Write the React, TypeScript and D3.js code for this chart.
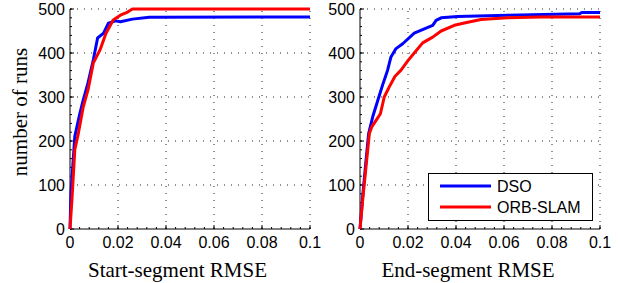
import React from "react";
import * as d3 from "d3";

// values (x = RMSE, y = number of runs)
const startDsoX = [0, 0.0004, 0.002, 0.004, 0.0055, 0.0075, 0.0097, 0.0115, 0.014, 0.016, 0.019, 0.021, 0.026, 0.033, 0.1];
const startDsoY = [0, 82, 210, 260, 293, 332, 384, 434, 445, 468, 473, 471, 477, 481, 482];
const startOrbX = [0, 0.0008, 0.002, 0.0035, 0.0055, 0.0075, 0.0097, 0.0125, 0.015, 0.018, 0.021, 0.024, 0.026, 0.1];
const startOrbY = [0, 66, 180, 218, 277, 316, 377, 407, 445, 475, 486, 493, 500, 500];

const endDsoX = [0, 0.0011, 0.0025, 0.0036, 0.0053, 0.0074, 0.0094, 0.0115, 0.0129, 0.015, 0.0178, 0.0226, 0.0268, 0.0303, 0.0317, 0.0338, 0.0407, 0.0615, 0.0914, 0.0924, 0.1];
const endDsoY = [0, 73, 156, 217, 255, 292, 327, 361, 391, 410, 421, 445, 455, 463, 474, 480, 483, 486, 489, 492, 492];
const endOrbX = [0, 0.0011, 0.0025, 0.0039, 0.0049, 0.0067, 0.0085, 0.0101, 0.0122, 0.0146, 0.0171, 0.0199, 0.0226, 0.0261, 0.0303, 0.0338, 0.0393, 0.0449, 0.0504, 0.0615, 0.0754, 0.1];
const endOrbY = [0, 65, 141, 217, 232, 247, 262, 300, 323, 347, 361, 382, 400, 423, 436, 450, 463, 470, 476, 480, 482, 482];

const xTicks = [0, 0.02, 0.04, 0.06, 0.08, 0.1];
const yTicks = [0, 100, 200, 300, 400, 500];
const seriesNames = ["DSO", "ORB-SLAM"];
const seriesColors = ["#0000ff", "#ff0000"];

const W = 618, H = 283;
const top = 9, bottom = 229;
const sans = "'Liberation Sans', Arial, sans-serif";
const serif = "'Liberation Serif', 'Times New Roman', serif";

const fmtX = (v: number) => (v === 0 ? "0" : v === 0.1 ? "0.1" : v.toFixed(2));

function Panel({ left, label, labelX, dso, orb, showYLabel }: any) {
  const x = d3.scaleLinear().domain([0, 0.1]).range([left, left + 240]);
  const y = d3.scaleLinear().domain([0, 500]).range([bottom, top]);
  const line = d3.line<[number, number]>().x(d => x(d[0])).y(d => y(d[1]));
  const minorX = d3.range(0, 0.1001, 0.004);
  const minorY = d3.range(0, 501, 20);
  return (
    <g>
      {/* grid */}
      {xTicks.filter(t => t > 0).map(t => (
        <line key={"gx" + t} x1={x(t)} x2={x(t)} y1={bottom} y2={top}
          stroke="#222" strokeWidth={1} strokeDasharray="1,6" />
      ))}
      {yTicks.filter(t => t > 0).map(t => (
        <line key={"gy" + t} x1={left} x2={x(0.1)} y1={y(t)} y2={y(t)}
          stroke="#222" strokeWidth={1} strokeDasharray="1,6" />
      ))}
      {/* minor ticks */}
      {minorX.map((t, i) => (
        <line key={"mx" + i} x1={x(t)} x2={x(t)} y1={bottom} y2={bottom - 2} stroke="#000" />
      ))}
      {minorY.map((t, i) => (
        <line key={"my" + i} x1={left} x2={left + 2} y1={y(t)} y2={y(t)} stroke="#000" />
      ))}
      {xTicks.map(t => (
        <line key={"tx" + t} x1={x(t)} x2={x(t)} y1={bottom} y2={bottom - 4} stroke="#000" />
      ))}
      {yTicks.map(t => (
        <line key={"ty" + t} x1={left} x2={left + 4} y1={y(t)} y2={y(t)} stroke="#000" />
      ))}
      {/* axes */}
      <line x1={left} x2={left} y1={top} y2={bottom} stroke="#000" />
      <line x1={left} x2={x(0.1)} y1={bottom} y2={bottom} stroke="#000" />
      {/* tick labels */}
      {xTicks.map(t => (
        <text key={"lx" + t} x={x(t)} y={bottom + 19} textAnchor="middle"
          fontFamily={sans} fontSize={16}>{fmtX(t)}</text>
      ))}
      {yTicks.map(t => (
        <text key={"ly" + t} x={left - 5} y={y(t) + 6} textAnchor="end"
          fontFamily={sans} fontSize={16}>{t}</text>
      ))}
      {/* data */}
      <path d={line(d3.zip(dso[0], dso[1]) as any) || ""} fill="none" stroke={seriesColors[0]} strokeWidth={3} strokeLinejoin="round" />
      <path d={line(d3.zip(orb[0], orb[1]) as any) || ""} fill="none" stroke={seriesColors[1]} strokeWidth={3} strokeLinejoin="round" />
      <text x={labelX} y={277} textAnchor="middle" fontFamily={serif} fontSize={21}>{label}</text>
      {showYLabel && (
        <text transform="translate(27,112) rotate(-90)" textAnchor="middle" fontFamily={serif} fontSize={21}>number of runs</text>
      )}
    </g>
  );
}

export default function App() {
  return (
    <svg width={W} height={H} style={{ position: "absolute", left: 0, top: 0, background: "#fff" }}>
      <rect width={W} height={H} fill="#fff" />
      <Panel left={70} label="Start-segment RMSE" labelX={177.5} dso={[startDsoX, startDsoY]} orb={[startOrbX, startOrbY]} showYLabel />
      <Panel left={360} label="End-segment RMSE" labelX={468} dso={[endDsoX, endDsoY]} orb={[endOrbX, endOrbY]} />
      {/* legend */}
      <g>
        <rect x={428.5} y={173.5} width={164} height={47} fill="#fff" stroke="#000" />
        {seriesNames.map((n, i) => (
          <g key={n}>
            <line x1={440} x2={491} y1={186 + i * 21} y2={186 + i * 21} stroke={seriesColors[i]} strokeWidth={3} />
            <text x={497} y={192 + i * 21} fontFamily={sans} fontSize={16}>{n}</text>
          </g>
        ))}
      </g>
    </svg>
  );
}
